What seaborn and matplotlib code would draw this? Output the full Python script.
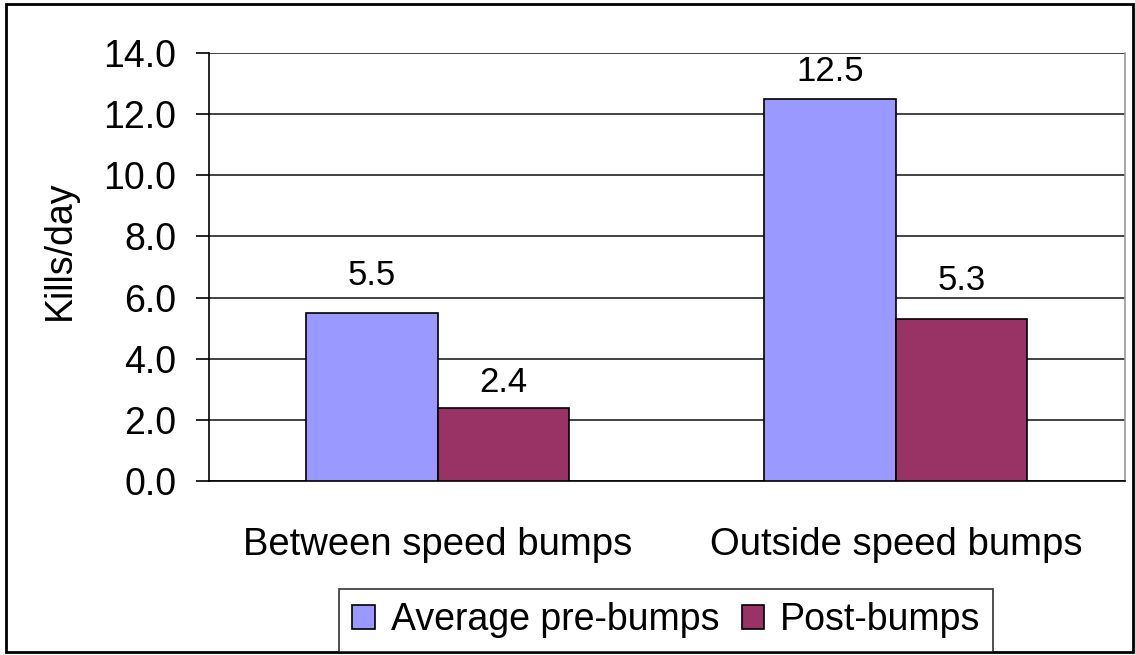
import matplotlib
matplotlib.use("Agg")
import matplotlib.pyplot as plt
from matplotlib.patches import Rectangle
import seaborn as sns
import pandas as pd

categories = ["Between speed bumps", "Outside speed bumps"]
series = ["Average pre-bumps", "Post-bumps"]
pre_bumps = [5.5, 12.5]
post_bumps = [2.4, 5.3]
yticks = [0, 2, 4, 6, 8, 10, 12, 14]
colors = ["#9999FF", "#993366"]

df = pd.DataFrame({
    "category": categories * 2,
    "series": [series[0]] * 2 + [series[1]] * 2,
    "value": pre_bumps + post_bumps,
})

sns.set_style("white")
plt.rcParams["font.family"] = ["Liberation Sans", "DejaVu Sans"]
plt.rcParams["text.color"] = "black"
plt.rcParams["axes.labelcolor"] = "black"
plt.rcParams["xtick.color"] = "black"
plt.rcParams["ytick.color"] = "black"

fig = plt.figure(figsize=(11.35, 6.55), dpi=100)
ax = fig.add_axes([0.184, 0.2656, 0.807, 0.6534])

sns.barplot(data=df, x="category", y="value", hue="series", palette=colors,
            saturation=1, width=0.575, gap=0, edgecolor="black", linewidth=1.2,
            errorbar=None, ax=ax, zorder=3, legend=False)

ax.set_xlim(-0.5, 1.5)
ax.set_ylim(0, 14)
ax.set_yticks(yticks)
ax.set_yticklabels([f"{v:.1f}" for v in yticks], fontsize=27)
ax.yaxis.grid(True, color="#222222", linewidth=1.2, zorder=0)
ax.set_axisbelow(True)

ax.set_xticks([0, 1])
ax.set_xticklabels(categories, fontsize=27.5)
ax.tick_params(axis="x", length=0, pad=33)
ax.set_xticks([-0.5, 0.5, 1.5], minor=True)
ax.tick_params(axis="x", which="minor", length=9.4, width=1.2, color="black", direction="out")
ax.tick_params(axis="y", length=9.4, width=1.2, color="black", direction="out", pad=14, left=True)

ax.set_xlabel("")
ax.set_ylabel("Kills/day", fontsize=27)
ax.yaxis.set_label_coords(-0.143, 0.54)

for side in ["left", "bottom"]:
    ax.spines[side].set_color("black")
    ax.spines[side].set_linewidth(1.2)
ax.spines["top"].set_visible(False)
ax.spines["right"].set_color("#999999")
ax.spines["right"].set_linewidth(1.2)

# value labels above each bar (offsets in points)
offsets = {(0, 0): 27, (0, 1): 20, (1, 0): 18, (1, 1): 28}
for i, cont in enumerate(ax.containers):
    for j, bar in enumerate(cont):
        h = bar.get_height()
        ax.annotate(f"{h:.1f}", (bar.get_x() + bar.get_width() / 2, h),
                    xytext=(0, offsets[(i, j)]), textcoords="offset points",
                    ha="center", va="center", fontsize=25)

handles = [Rectangle((0, 0), 1, 1, facecolor=c, edgecolor="black", linewidth=1.2) for c in colors]
leg = fig.legend(handles, series, loc="center", bbox_to_anchor=(0.587, 0.0527),
                 ncol=2, fontsize=27, frameon=True, fancybox=False,
                 handlelength=0.6, handleheight=0.6, handletextpad=0.42,
                 columnspacing=0.6, borderpad=0.35, borderaxespad=0)
leg.get_frame().set_edgecolor("black")
leg.get_frame().set_linewidth(1.2)

fig.patches.append(Rectangle((0.005, 0.004), 0.993, 0.99, transform=fig.transFigure,
                             fill=False, edgecolor="black", linewidth=2))

fig.savefig("out.png", dpi=100)
